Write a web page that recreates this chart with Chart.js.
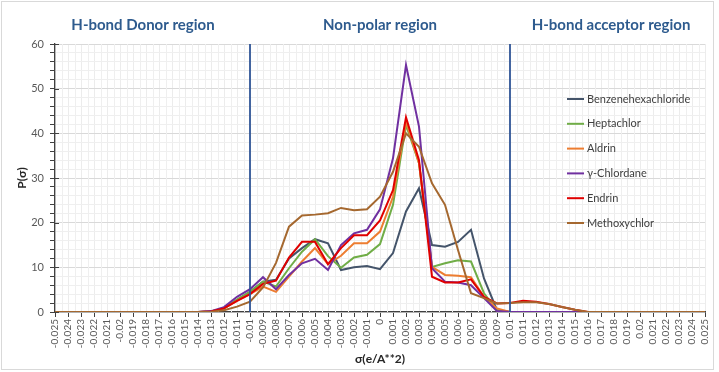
<!DOCTYPE html>
<html>
<head>
<meta charset="utf-8">
<script src="https://cdn.jsdelivr.net/npm/chart.js@4.4.1/dist/chart.umd.min.js"></script>
<style>
  body { margin: 0; background: #fff; }
</style>
</head>
<body>
<canvas id="sigmaChart" width="719" height="372"></canvas>
<script>
// sigma profile categories (e/A**2)
var sigmaLabels = ["-0.025", "-0.024", "-0.023", "-0.022", "-0.021", "-0.02", "-0.019", "-0.018", "-0.017", "-0.016",
    "-0.015", "-0.014", "-0.013", "-0.012", "-0.011", "-0.01", "-0.009", "-0.008", "-0.007", "-0.006",
    "-0.005", "-0.004", "-0.003", "-0.002", "-0.001", "0", "0.001", "0.002", "0.003", "0.004",
    "0.005", "0.006", "0.007", "0.008", "0.009", "0.01", "0.011", "0.012", "0.013", "0.014",
    "0.015", "0.016", "0.017", "0.018", "0.019", "0.02", "0.021", "0.022", "0.023", "0.024", "0.025"];

var seriesNames = ["Benzenehexachloride", "Heptachlor", "Aldrin", "\u03b3-Chlordane", "Endrin", "Methoxychlor"];
var seriesColors = ["#44546A", "#70AD47", "#ED7D31", "#7030A0", "#E00000", "#A5682F"];

var benzenehexachloride = [0, 0, 0, 0, 0, 0, 0, 0, 0, 0, 0, 0,
    0.1, 0.8, 2.7, 4.5, 6.8, 7.2, 12.0, 14.3, 16.3, 15.4, 9.4, 10.0, 10.3, 9.6, 13.2, 22.5, 27.7, 15.0,
    14.6, 15.7, 18.4, 7.5, 0.4, 0, 0, 0, 0, 0, 0, 0, 0, 0, 0, 0, 0, 0, 0, 0, 0];
var heptachlor = [0, 0, 0, 0, 0, 0, 0, 0, 0, 0, 0, 0,
    0.1, 0.8, 2.8, 4.5, 6.8, 5.7, 9.8, 13.5, 16.3, 12.5, 9.9, 12.2, 12.8, 15.2, 24.0, 41.9, 33.3, 10.1,
    10.9, 11.6, 11.3, 4.2, 0.4, 0, 0, 0, 0, 0, 0, 0, 0, 0, 0, 0, 0, 0, 0, 0, 0];
var aldrin = [0, 0, 0, 0, 0, 0, 0, 0, 0, 0, 0, 0,
    0.1, 0.8, 2.5, 4.0, 5.7, 4.5, 7.9, 11.3, 14.3, 10.7, 12.6, 15.4, 15.4, 18.0, 25.8, 42.6, 33.3, 10.1,
    8.3, 8.1, 7.8, 3.4, 0.8, 0, 0, 0, 0, 0, 0, 0, 0, 0, 0, 0, 0, 0, 0, 0, 0];
var chlordane = [0, 0, 0, 0, 0, 0, 0, 0, 0, 0, 0, 0,
    0.2, 1.1, 3.4, 5.1, 7.8, 5.1, 8.3, 10.9, 11.9, 9.4, 15.0, 17.6, 18.4, 23.0, 34.4, 55.3, 41.5, 9.8,
    6.8, 6.6, 6.0, 3.1, 0.2, 0, 0, 0, 0, 0, 0, 0, 0, 0, 0, 0, 0, 0, 0, 0, 0];
var endrin = [0, 0, 0, 0, 0, 0, 0, 0, 0, 0, 0, 0,
    0.1, 0.8, 2.5, 4.0, 6.3, 7.0, 12.2, 15.7, 15.7, 10.7, 14.3, 17.2, 17.2, 20.5, 27.3, 43.6, 34.0, 7.9,
    6.6, 6.6, 7.3, 3.4, 1.9, 2.0, 2.5, 2.3, 1.8, 1.1, 0.5, 0, 0, 0, 0, 0, 0, 0, 0, 0, 0];
var methoxychlor = [0, 0, 0, 0, 0, 0, 0, 0, 0, 0, 0, 0,
    0.05, 0.4, 1.2, 2.3, 5.5, 11.0, 19.1, 21.6, 21.8, 22.1, 23.3, 22.8, 23.0, 25.8, 31.4, 40.0, 37.0, 28.8,
    24.0, 13.9, 4.2, 3.1, 1.9, 2.0, 2.2, 2.2, 1.8, 1.1, 0.5, 0, 0, 0, 0, 0, 0, 0, 0, 0, 0];

var seriesData = [benzenehexachloride, heptachlor, aldrin, chlordane, endrin, methoxychlor];

// region boundaries, as category labels
var regionLines = ["-0.01", "0.01"];
var regionTitles = ["H-bond Donor region", "Non-polar region", "H-bond acceptor region"];

var fontFamily = "Lato, 'Liberation Sans', sans-serif";

var overlayPlugin = {
    id: "overlay",
    beforeDraw: function (chart) {
        var ctx = chart.ctx;
        ctx.save();
        ctx.strokeStyle = "#d9d9d9";
        ctx.lineWidth = 1;
        ctx.strokeRect(1.5, 1.5, 712, 368);
        ctx.restore();
    },
    beforeDatasetsDraw: function (chart) {
        var ctx = chart.ctx;
        var area = chart.chartArea;
        var xs = chart.scales.x;
        ctx.save();
        ctx.strokeStyle = "#efefef";
        ctx.lineWidth = 1;
        ctx.beginPath();
        for (var i = 0; i < sigmaLabels.length - 1; i++)
        {
            var px = Math.round((xs.getPixelForValue(i) + xs.getPixelForValue(i + 1)) / 2) + 0.5;
            ctx.moveTo(px, area.top);
            ctx.lineTo(px, area.bottom);
        }
        ctx.stroke();
        ctx.restore();
    },
    afterDatasetsDraw: function (chart) {
        var ctx = chart.ctx;
        var area = chart.chartArea;
        var xs = chart.scales.x;
        ctx.save();
        ctx.strokeStyle = "#2F5597";
        ctx.lineWidth = 1.8;
        regionLines.forEach(function (lbl) {
            var px = xs.getPixelForValue(sigmaLabels.indexOf(lbl));
            ctx.beginPath();
            ctx.moveTo(px, area.top);
            ctx.lineTo(px, area.bottom);
            ctx.stroke();
        });
        ctx.restore();
    },
    afterDraw: function (chart) {
        var ctx = chart.ctx;
        var area = chart.chartArea;
        var xs = chart.scales.x;
        ctx.save();

        // region titles
        ctx.fillStyle = "#2E5B8E";
        ctx.font = "bold 15px " + fontFamily;
        ctx.textAlign = "center";
        ctx.textBaseline = "middle";
        var b1 = xs.getPixelForValue(sigmaLabels.indexOf(regionLines[0]));
        var b2 = xs.getPixelForValue(sigmaLabels.indexOf(regionLines[1]));
        ctx.fillText(regionTitles[0], 143, 25);
        ctx.fillText(regionTitles[1], (b1 + b2) / 2, 25);
        ctx.fillText(regionTitles[2], 611, 25);

        // axis titles
        ctx.fillStyle = "#262626";
        ctx.font = "bold 12px " + fontFamily;
        ctx.fillText("\u03c3(e/A**2)", (area.left + area.right) / 2, 359);
        ctx.translate(22, (area.top + area.bottom) / 2);
        ctx.rotate(-Math.PI / 2);
        ctx.fillText("P(\u03c3)", 0, 0);
        ctx.setTransform(1, 0, 0, 1, 0, 0);

        // major y ticks cross the axis line
        var ys = chart.scales.y;
        ctx.strokeStyle = "#404040";
        ctx.lineWidth = 1;
        ctx.beginPath();
        for (var v = 0; v <= 60; v += 10)
        {
            var py = Math.round(ys.getPixelForValue(v)) + 0.5;
            ctx.moveTo(area.left, py);
            ctx.lineTo(area.left + 4, py);
        }
        ctx.stroke();

        // legend
        ctx.font = "11px " + fontFamily;
        ctx.textAlign = "left";
        for (var i = 0; i < seriesNames.length; i++)
        {
            var ly = 99 + i * 24.8;
            ctx.strokeStyle = seriesColors[i];
            ctx.lineWidth = 2;
            ctx.beginPath();
            ctx.moveTo(567, ly);
            ctx.lineTo(584, ly);
            ctx.stroke();
            ctx.fillStyle = "#404040";
            ctx.fillText(seriesNames[i], 587, ly);
        }
        ctx.restore();
    }
};

var datasets = [];
for (var s = 0; s < seriesNames.length; s++)
{
    datasets.push({
        label: seriesNames[s],
        data: seriesData[s],
        borderColor: seriesColors[s],
        backgroundColor: seriesColors[s],
        borderWidth: 2,
        pointRadius: 0,
        tension: 0,
        fill: false,
        order: seriesNames.length - s
    });
}

var sigmaChart = new Chart(document.getElementById("sigmaChart"), {
    type: "line",
    data: {
        labels: sigmaLabels,
        datasets: datasets
    },
    options: {
        responsive: false,
        animation: false,
        layout: {
            padding: { top: 44, right: 11, bottom: 0, left: 0 }
        },
        plugins: {
            legend: { display: false },
            tooltip: { enabled: false }
        },
        scales: {
            x: {
                type: "category",
                offset: false,
                afterFit: function (scale) { scale.height = 60; },
                grid: {
                    color: "#ececec",
                    tickColor: "#404040",
                    tickLength: 5
                },
                border: { color: "#404040", width: 1.3 },
                ticks: {
                    autoSkip: false,
                    minRotation: 90,
                    maxRotation: 90,
                    padding: 2,
                    color: "#595959",
                    font: { family: fontFamily, size: 10 }
                }
            },
            y: {
                min: 0,
                max: 60,
                afterFit: function (scale) { scale.width = 55; },
                grid: {
                    color: function (c) { return c.tick && c.tick.value % 10 === 0 ? "#d9d9d9" : "#efefef"; },
                    tickColor: "#404040",
                    tickLength: 5
                },
                border: { color: "#404040", width: 1.3 },
                ticks: {
                    stepSize: 2,
                    autoSkip: false,
                    padding: 6,
                    color: "#595959",
                    font: { family: fontFamily, size: 11 },
                    callback: function (v) { return v % 10 === 0 ? v : ""; }
                }
            }
        }
    },
    plugins: [overlayPlugin]
});
</script>
</body>
</html>
